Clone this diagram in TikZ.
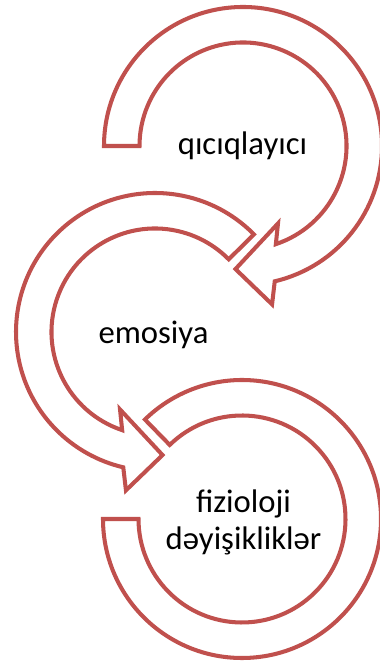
\documentclass[tikz,border=0pt]{standalone}
\usepackage{fontspec}
\setmainfont{Carlito}
\usetikzlibrary{calc,positioning}
\definecolor{ringred}{RGB}{192,80,77}
\tikzset{
  ring/.style ={draw=ringred,line width=2.3pt,fill=white},
  lbl/.style  ={font=\fontsize{18.6}{21.6}\selectfont,inner sep=0pt,align=center},
}
\begin{document}
\begin{tikzpicture}[x=0.02cm,y=0.02cm]
  \useasboundingbox (0,0) rectangle (379,661);
  \coordinate (c1) at (243,515);
  \coordinate (c2) at (155,329);
  \coordinate (c3) at (242,142);
  % lower ring, open at the upper left
  \draw[ring] ($(c3)+(180:139)$) arc[start angle=180,end angle=494.3,radius=139]
     -- ($(c3)+(494.3:103.5)$) arc[start angle=494.3,end angle=180,radius=103.5]
     -- cycle;
  % middle arrow, turning left
  \draw[ring] ($(c2)+(44.6:139)$) arc[start angle=44.6,end angle=256.8,radius=139]
     -- ($(c2)+(259.6:161)$) -- ($(c2)+(273.5:123.3)$) -- ($(c2)+(245.7:85)$)
     -- ($(c2)+(251.5:103.5)$) arc[start angle=251.5,end angle=44.6,radius=103.5]
     -- cycle;
  % top arrow, turning right
  \draw[ring] ($(c1)+(180:139)$) arc[start angle=180,end angle=-76.8,radius=139]
     -- ($(c1)+(-79.6:161)$) -- ($(c1)+(-93.5:123.3)$) -- ($(c1)+(-65.7:85)$)
     -- ($(c1)+(-71.5:103.5)$) arc[start angle=-71.5,end angle=180,radius=103.5]
     -- cycle;
  % labels
  \node[lbl,anchor=base] (stim) at (242.5,506) {qıcıqlayıcı};
  \node[lbl,anchor=base] (emo)  at (153.5,317) {emosiya};
  \node[lbl,anchor=base] (fiz)  at (243.5,111) {fizioloji\\dəyişikliklər};
\end{tikzpicture}
\end{document}
